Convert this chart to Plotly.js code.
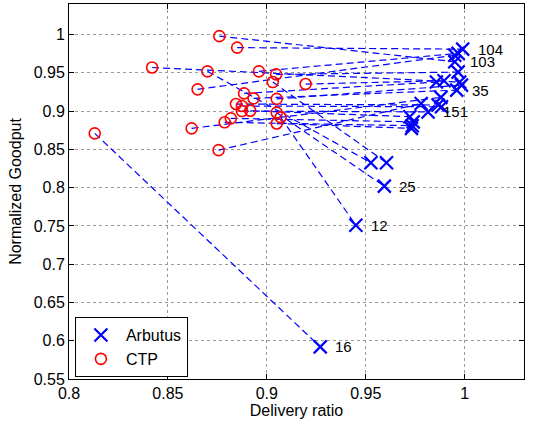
<!DOCTYPE html>
<html>
<head>
<meta charset="utf-8">
<script src="https://cdn.plot.ly/plotly-3.0.1.min.js"></script>
<style>html,body{margin:0;padding:0;background:#fff;}#chart{width:537px;height:425px;}</style>
</head>
<body>
<div id="chart"></div>
<script>
// CTP (before) points, paired by index with Arbutus (after) points
const ctpX = [0.813, 0.876, 0.885, 0.842, 0.870, 0.865, 0.862, 0.8756, 0.896, 0.9047, 0.903, 0.905, 0.907, 0.9196, 0.8885, 0.8933, 0.905, 0.8844, 0.8874, 0.8874, 0.8916, 0.905, 0.8818, 0.8787];
const ctpY = [0.871, 0.998, 0.983, 0.957, 0.952, 0.9285, 0.8775, 0.849, 0.952, 0.948, 0.938, 0.898, 0.892, 0.9354, 0.9232, 0.9167, 0.916, 0.9093, 0.9067, 0.9001, 0.9005, 0.8838, 0.8906, 0.8854];
const arbX = [0.927, 0.995, 0.999, 0.9975, 0.9526, 0.995, 0.988, 0.978, 0.9967, 0.9967, 0.9605, 0.9594, 0.945, 0.9896, 0.9857, 0.996, 0.9984, 0.9866, 0.9883, 0.9815, 0.9723, 0.9731, 0.974, 0.9735];
const arbY = [0.592, 0.9645, 0.981, 0.938, 0.8326, 0.973, 0.918, 0.910, 0.9755, 0.951, 0.8326, 0.802, 0.751, 0.9397, 0.938, 0.9275, 0.934, 0.908, 0.9057, 0.899, 0.8927, 0.8775, 0.886, 0.881];
const nodeLabels = ["16", "103", "104", "", "", "", "", "", "", "", "", "25", "12", "", "", "35", "", "", "", "151", "", "", "", ""];

const xTickVals = [0.8, 0.85, 0.9, 0.95, 1];
const xTickText = ["0.8", "0.85", "0.9", "0.95", "1"];
const yTickVals = [0.55, 0.6, 0.65, 0.7, 0.75, 0.8, 0.85, 0.9, 0.95, 1];
const yTickText = ["0.55", "0.6", "0.65", "0.7", "0.75", "0.8", "0.85", "0.9", "0.95", "1"];

// connecting dashed segments
const segX = [], segY = [];
for (let i = 0; i < ctpX.length; i++) {
  segX.push(ctpX[i], arbX[i], null);
  segY.push(ctpY[i], arbY[i], null);
}

const font = "Liberation Sans, Arial, Helvetica, sans-serif";

const traces = [
  {x: segX, y: segY, mode: 'lines', type: 'scatter', showlegend: false, hoverinfo: 'skip',
   line: {color: '#0000ff', width: 1.2, dash: '7px,4px'}},
  {x: arbX, y: arbY, mode: 'markers', type: 'scatter', name: 'Arbutus',
   marker: {symbol: 'x-thin-open', size: 13, color: '#0000ff', line: {color: '#0000ff', width: 2.2}}},
  {x: ctpX, y: ctpY, mode: 'markers', type: 'scatter', name: 'CTP',
   marker: {symbol: 'circle-open', size: 11, color: '#ff0000', line: {color: '#ff0000', width: 1.6}}}
];

const annotations = [];
for (let i = 0; i < arbX.length; i++) {
  if (nodeLabels[i]) {
    annotations.push({x: arbX[i], y: arbY[i], text: nodeLabels[i], showarrow: false,
      xanchor: 'left', yanchor: 'middle', xshift: 14, borderpad: 0,
      font: {family: font, size: 15, color: '#000'}});
  }
}

const axisCommon = {
  showline: true, linecolor: '#000', linewidth: 1, mirror: 'ticks',
  ticks: 'inside', ticklen: 5, tickcolor: '#000',
  showgrid: true, gridcolor: '#999', griddash: 'dot', gridwidth: 1,
  zeroline: false, tickfont: {family: font, size: 16, color: '#000'}
};

const layout = {
  width: 537, height: 425,
  margin: {l: 69, r: 13, t: 4, b: 46},
  paper_bgcolor: '#fff', plot_bgcolor: '#fff',
  font: {family: font, size: 16, color: '#000'},
  xaxis: Object.assign({}, axisCommon, {
    range: [0.8, 1.03], tickvals: xTickVals, ticktext: xTickText,
    title: {text: 'Delivery ratio', font: {family: font, size: 16}, standoff: 3}
  }),
  yaxis: Object.assign({}, axisCommon, {
    range: [0.55, 1.04], tickvals: yTickVals, ticktext: yTickText,
    title: {text: 'Normalized Goodput', font: {family: font, size: 16}, standoff: 8}
  }),
  legend: {x: 0.013, y: 0.005, xanchor: 'left', yanchor: 'bottom',
    bordercolor: '#000', borderwidth: 1, bgcolor: '#fff', itemwidth: 40,
    font: {family: font, size: 16, color: '#000'}, tracegroupgap: 0},
  annotations: annotations,
  showlegend: true
};

Plotly.newPlot('chart', traces, layout, {displayModeBar: false, staticPlot: true});
</script>
</body>
</html>
